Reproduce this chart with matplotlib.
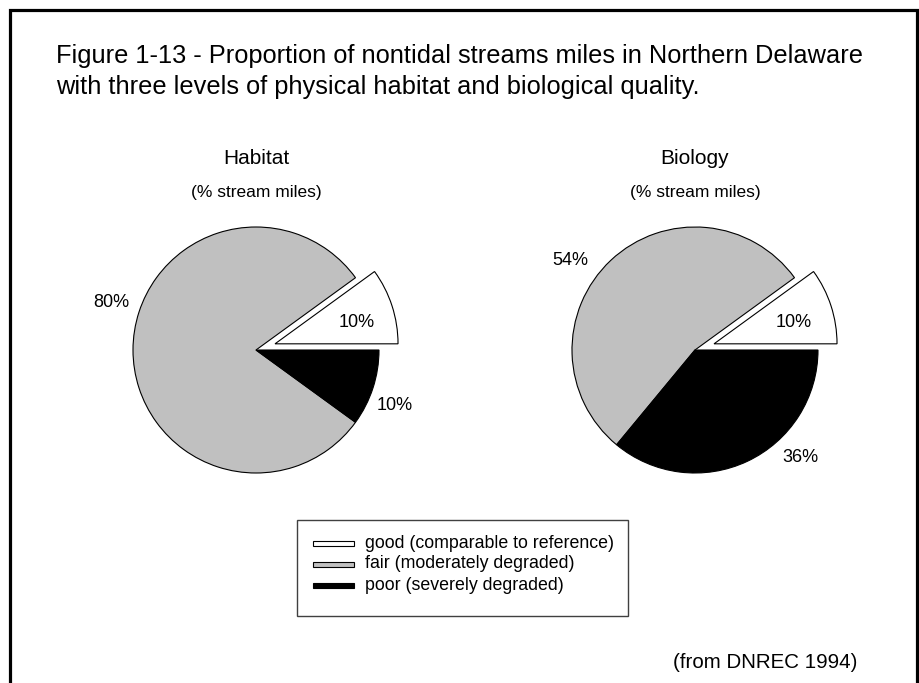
import matplotlib
matplotlib.use("Agg")
import matplotlib.pyplot as plt
from matplotlib.patches import Rectangle

plt.rcParams['font.family'] = ['Liberation Sans', 'DejaVu Sans']

W, H = 920, 683

categories = ["good (comparable to reference)",
              "fair (moderately degraded)",
              "poor (severely degraded)"]
colors = ["#ffffff", "#c0c0c0", "#000000"]

habitat_pct = [10, 80, 10]
biology_pct = [10, 54, 36]

title_lines = ["Figure 1-13 - Proportion of nontidal streams miles in Northern Delaware",
               "with three levels of physical habitat and biological quality."]
source_text = "(from DNREC 1994)"

fig = plt.figure(figsize=(W / 100, H / 100), dpi=100)
ax = fig.add_axes([0, 0, 1, 1])


def Y(y):
    return H - y


R = 123          # pie radius
EXPLODE = 20     # offset of the "good" wedge


def draw_pie(cx, cy, values, name, label_pos):
    wedges, _ = ax.pie(values, colors=colors, startangle=0, counterclock=True,
                       explode=[EXPLODE, 0, 0], center=(cx, Y(cy)), radius=R,
                       wedgeprops=dict(edgecolor="black", linewidth=0.8))
    ax.text(cx, Y(158), name, ha="center", va="center", fontsize=15)
    ax.text(cx, Y(193), "(% stream miles)", ha="center", va="center", fontsize=12.5)
    for v, (lx, ly) in zip(values, label_pos):
        ax.text(lx, Y(ly), f"{v}%", ha="center", va="center", fontsize=13)
    return wedges


draw_pie(256, 350, habitat_pct, "Habitat",
         [(357, 323), (111, 303), (395, 406)])
draw_pie(695, 350, biology_pct, "Biology",
         [(794, 323), (570, 261), (800, 457)])

ax.set_xlim(0, W)
ax.set_ylim(0, H)
ax.set_aspect("equal")
ax.axis("off")

# outer frame, open at the bottom
ax.plot([10.5, 10.5, 917.5, 917.5], [-5, Y(9.5), Y(9.5), -5],
        color="black", linewidth=2.3, solid_joinstyle="miter", clip_on=False)

for i, line in enumerate(title_lines):
    ax.text(56, Y(56 + 31 * i), line, ha="left", va="center", fontsize=18.3)

# legend
ax.add_patch(Rectangle((297, Y(616)), 331, 96, facecolor="white",
                       edgecolor="#404040", linewidth=1.0))
for i, (lab, col) in enumerate(zip(categories, colors)):
    ry = 543 + i * 21
    ax.add_patch(Rectangle((313, Y(ry) - 2.5), 41, 5, facecolor=col,
                           edgecolor="black", linewidth=0.8))
    ax.text(365, Y(ry), lab, ha="left", va="center", fontsize=12.8)

ax.text(765.5, Y(662), source_text, ha="center", va="center", fontsize=14.8)

fig.savefig("out.png", dpi=100)
